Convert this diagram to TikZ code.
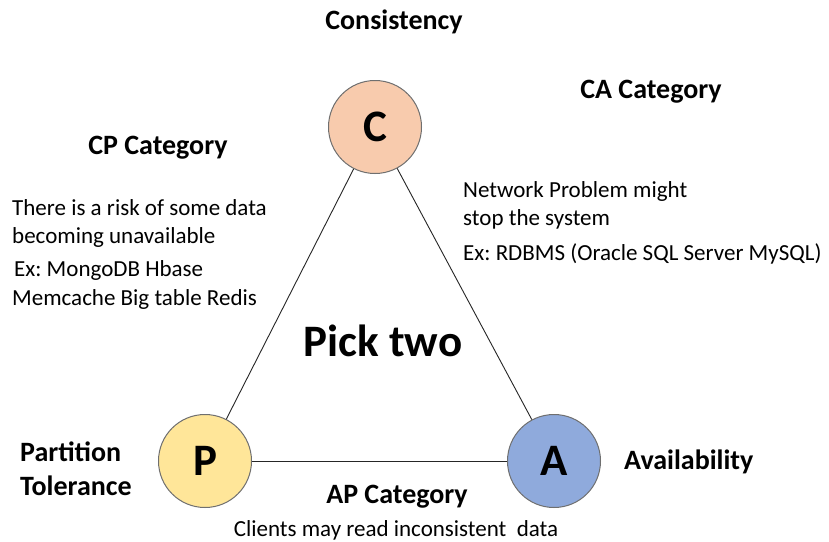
\documentclass[tikz,border=0pt]{standalone}
\usepackage{fontspec}
\setmainfont{Carlito}
\frenchspacing
\definecolor{cfill}{HTML}{F8CBAD}
\definecolor{pfill}{HTML}{FFE699}
\definecolor{afill}{HTML}{8FAADC}
\definecolor{edge}{HTML}{6F6F6F}
\begin{document}
\begin{tikzpicture}[x=1pt,y=-1pt,
  vertex/.style={circle,draw=edge,line width=1pt,minimum size=93pt,inner sep=0pt,font=\fontsize{45}{45}\selectfont\bfseries},
  head/.style={inner sep=0pt,font=\fontsize{28}{30}\selectfont\bfseries},
  body/.style={inner sep=0pt,anchor=west,font=\fontsize{23}{26}\selectfont},
  link/.style={line width=0.9pt,black!85}]
\useasboundingbox[fill=white] (0,0) rectangle (829,541);
\node[vertex,fill=cfill] (C) at (375,127) {C};
\node[vertex,fill=pfill] (P) at (205,461) {P};
\node[vertex,fill=afill] (A) at (554,461) {A};
\draw[link] (C) -- (P);
\draw[link] (C) -- (A);
\draw[link] (P) -- (A);
\node[head] (cons) at (394,22) {Consistency};
\node[head] (ca) at (651,92) {CA Category};
\node[head] (cp) at (158,148) {CP Category};
\node[head,anchor=west] (part) at (20,452) {Partition};
\node[head,anchor=west] (tol) at (20,486) {Tolerance};
\node[head,anchor=west] (avail) at (624,462) {Availability};
\node[head] (ap) at (397,497) {AP Category};
\node[inner sep=0pt,font=\fontsize{45}{45}\selectfont\bfseries] (pick) at (383,341) {Pick two};
\node[body] (cp1) at (12,208) {There is a risk of some data};
\node[body] (cp2) at (12,237) {becoming unavailable};
\node[body] (cp3) at (14,270) {Ex: MongoDB Hbase};
\node[body] (cp4) at (12,299) {Memcache Big table Redis};
\node[body] (ca1) at (463,191) {Network Problem might};
\node[body] (ca2) at (463,219) {stop the system};
\node[body] (ca3) at (463,254) {Ex: RDBMS (Oracle SQL Server MySQL)};
\node[inner sep=0pt,font=\fontsize{23}{26}\selectfont] (apt) at (396,530) {Clients may read inconsistent\ \ data};
\end{tikzpicture}
\end{document}
